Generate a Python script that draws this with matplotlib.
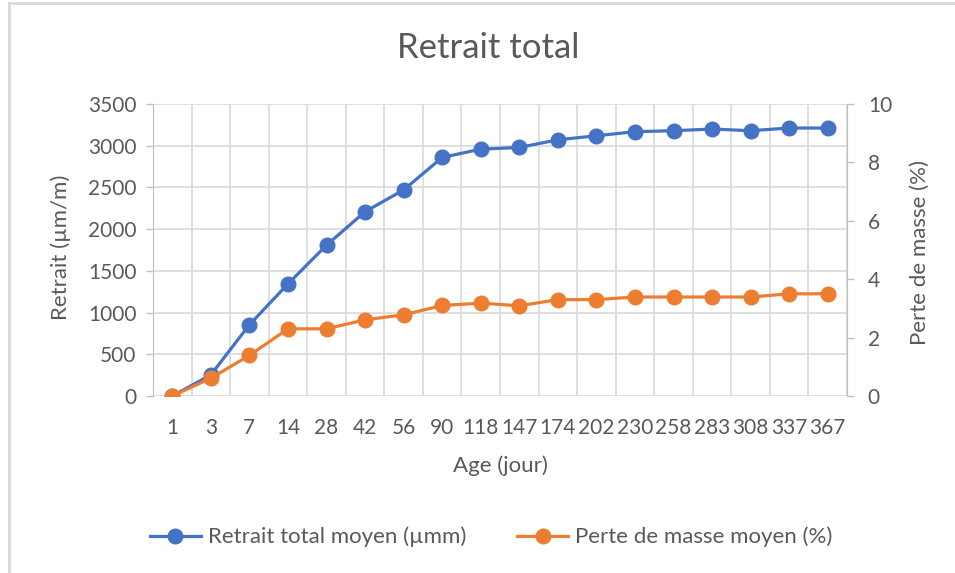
import matplotlib.pyplot as plt
from matplotlib.lines import Line2D
import numpy as np

plt.rcParams['font.family'] = ['Lato', 'DejaVu Sans']

# Data
ages = ['1', '3', '7', '14', '28', '42', '56', '90', '118', '147', '174',
        '202', '230', '258', '283', '308', '337', '367']
retrait = [0, 253, 854, 1343, 1808, 2209, 2470, 2859, 2959, 2979, 3071,
           3119, 3168, 3180, 3200, 3180, 3212, 3212]
perte = [0, 0.61, 1.39, 2.30, 2.30, 2.61, 2.78, 3.10, 3.18, 3.09, 3.30,
         3.30, 3.39, 3.39, 3.39, 3.39, 3.50, 3.50]

BLUE = '#4472c4'
ORANGE = '#ed7d31'
GRID = '#d9d9d9'
TXT = '#595959'
FS = 15

fig = plt.figure(figsize=(9.55, 5.73), dpi=100)
ax = fig.add_axes([153 / 955, 1 - 396 / 573, 694 / 955, 292 / 573])
ax2 = ax.twinx()

x = np.arange(len(ages))
ax.plot(x, retrait, color=BLUE, lw=2.3, marker='o', ms=10.5, zorder=3)
ax2.plot(x, perte, color=ORANGE, lw=2.3, marker='o', ms=10.5, zorder=3)

ax.set_xlim(-0.5, len(ages) - 0.5)
ax.set_ylim(0, 3500)
ax.set_yticks(range(0, 3501, 500))
ax2.set_ylim(0, 10)
ax2.set_yticks(range(0, 11, 2))

ax.set_xticks(x)
ax.set_xticklabels(ages)
ax.set_xticks(np.arange(-0.5, len(ages), 1), minor=True)
ax.grid(True, which='minor', axis='x', color=GRID, lw=1.2)
ax.grid(True, which='major', axis='y', color=GRID, lw=1.2)
ax.set_axisbelow(True)
ax.tick_params(axis='x', which='both', length=0, pad=16, labelsize=FS, colors=TXT)
ax.tick_params(axis='y', length=5, width=1, color='#bfbfbf', pad=7, labelsize=FS, labelcolor=TXT)
ax2.tick_params(axis='y', length=5, width=1, color='#bfbfbf', pad=10, labelsize=FS, labelcolor=TXT)

for a in (ax, ax2):
    for s in ('top', 'bottom'):
        a.spines[s].set_visible(False)
    a.spines['left'].set_color('#bfbfbf')
    a.spines['right'].set_color('#bfbfbf')
ax.spines['right'].set_visible(False)
ax2.spines['left'].set_visible(False)

ax.set_xlabel('Age (jour)', fontsize=16, color=TXT, va='center')
ax.xaxis.set_label_coords(0.5, (396 - 466) / 292)
ax.set_ylabel('Retrait (µm/m)', fontsize=16, color=TXT, va='center')
ax.yaxis.set_label_coords((61 - 153) / 694, 0.51)
ax2.set_ylabel('Perte de masse (%)', fontsize=16, color=TXT, va='center')
ax2.yaxis.set_label_coords((920 - 153) / 694, 0.49)

fig.text(488 / 955, 1 - 48 / 573, 'Retrait total', ha='center', va='center',
         fontsize=25, color=TXT)

handles = [Line2D([], [], color=BLUE, lw=2.3, marker='o', ms=10.5),
           Line2D([], [], color=ORANGE, lw=2.3, marker='o', ms=10.5)]
fig.legend(handles, ['Retrait total moyen (µmm)', 'Perte de masse moyen (%)'],
           loc='center', bbox_to_anchor=(491 / 955, 1 - 537 / 573), ncol=2,
           frameon=False, fontsize=16, labelcolor=TXT, handlelength=2.3,
           handletextpad=0.3, columnspacing=2.3)

# chart area border (left and top)
fig.add_artist(Line2D([9 / 955, 9 / 955], [0, 1 - 3 / 573], color='#d9d9d9', lw=2,
                      transform=fig.transFigure))
fig.add_artist(Line2D([9 / 955, 1], [1 - 3 / 573, 1 - 3 / 573], color='#d9d9d9', lw=2,
                      transform=fig.transFigure))

fig.savefig('out.png', dpi=100)
